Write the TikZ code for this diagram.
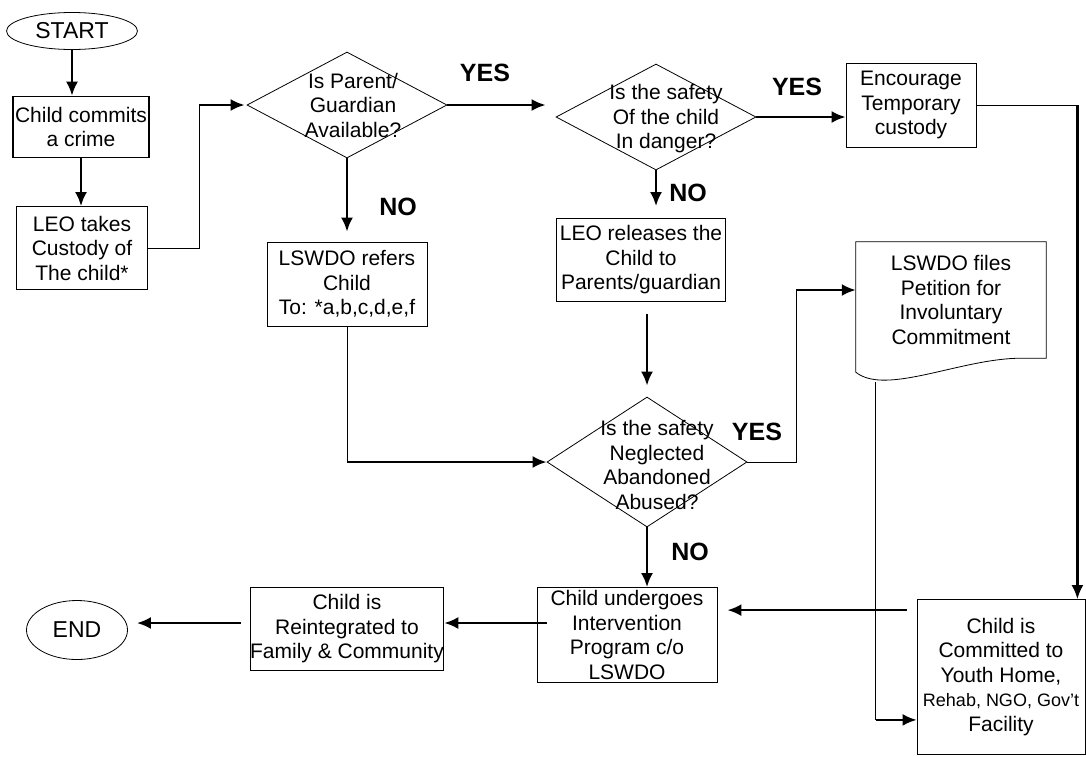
\documentclass[tikz,border=0pt]{standalone}
\usepackage{fontspec}
\setmainfont{Liberation Sans}
\usetikzlibrary{shapes.geometric}
\usetikzlibrary{arrows.meta}
\usetikzlibrary{calc}
\newcommand{\flowfont}{\fontsize{21}{24.5}\selectfont}
\newcommand{\answerfont}{\bfseries\fontsize{25}{25}\selectfont}
\tikzset{box/.style={draw,line width=#1,align=center,inner sep=0pt,font=\flowfont},box/.default=0.8pt}
\tikzset{terminal/.style={draw,ellipse,line width=0.8pt,inner sep=0pt,font=\fontsize{23}{23}\selectfont}}
\tikzset{decision/.style={draw,diamond,line width=0.8pt,inner sep=0pt}}
\tikzset{question/.style={align=center,inner sep=0pt,font=\flowfont}}
\tikzset{answer/.style={inner sep=0pt,font=\answerfont}}
\tikzset{flow/.style={-{Latex[length=14pt,width=12pt]},line width=2.4pt},line/.style={line width=0.8pt}}

\begin{document}
\begin{tikzpicture}[x=1pt,y=-1pt]

	\useasboundingbox (0,0) rectangle (1086,756);

	% Inicio e fim
	\node [terminal, minimum width=131, minimum height=37] (start) at (72,31) {START};
	\node [terminal, minimum width=101, minimum height=59] (end) at (77,630) {END};

	% Caixas do lado esquerdo
	\node [box=1.6pt, minimum width=136, minimum height=61] (crime) at (81,127) {Child commits\\a crime};
	\node [box, minimum width=131, minimum height=83] (custody) at (82,248) {LEO takes\\Custody of\\The child*};

	% As perguntas
	\node [decision, minimum width=200, minimum height=106] (parent) at (347,105) {};
	\node [question, xshift=6] at (parent) {Is Parent/\\Guardian\\Available?};
	\node [decision, minimum width=200, minimum height=106] (danger) at (656,117) {};
	\node [question, xshift=10, yshift=-2] at (danger) {Is the safety\\Of the child\\In danger?};
	\node [decision, minimum width=200, minimum height=130] (abused) at (647,462) {};
	\node [question, xshift=10, yshift=-3] at (abused) {Is the safety\\Neglected\\Abandoned\\Abused?};

	% Caixas do meio
	\node [box, minimum width=160, minimum height=84] (refer) at (347,284) {LSWDO refers\\Child\\To: *a,b,c,d,e,f};
	\node [box, minimum width=169, minimum height=83] (release) at (641,260) {LEO releases the\\Child to\\Parents/guardian};
	\node [box, minimum width=130, minimum height=84] (encourage) at (911,105) {Encourage\\Temporary\\custody};
	\node [box, minimum width=180, minimum height=95] (program) at (627,635) {Child undergoes\\Intervention\\Program c/o\\LSWDO};
	\node [box, minimum width=180, minimum height=83] (reintegrate) at (347,629) {Child is\\Reintegrated to\\Family \& Community};
	\node [box, minimum width=168, minimum height=155] (commit) at (1001,677)
		{Child is\\Committed to\\Youth Home,\\{\fontsize{18}{24.5}\selectfont Rehab, NGO, Gov't}\\Facility};

	% O documento da peticao
	\node [align=center, inner sep=0pt, font=\flowfont, minimum width=190, minimum height=116]
		(petition) at (951,300) {LSWDO files\\Petition for\\Involuntary\\Commitment};
	\draw [line] (petition.south east) -- (petition.north east) -- (petition.north west)
		-- ($(petition.south west)+(0,14)$)
		.. controls +(30,24) and +(-60,0) .. ($(petition.south east)+(-25,0)$) -- cycle;

	% Setas da coluna da esquerda
	\draw [flow] (start) -- (start |- crime.north);
	\draw [flow] (crime) -- (crime |- custody.north);
	\coordinate (k1) at ($(custody.east)+(51,0)$);
	\draw [line] (custody.east) -- (k1) -- (k1 |- parent.west);
	\draw [flow, shorten >=2pt] (k1 |- parent.west) -- (parent.west);

	% Primeira pergunta
	\draw [flow, shorten >=10pt] (parent.east) -- (parent.east -| danger.west);
	\node [answer] at (485,73) {YES};
	\draw [flow, shorten >=10pt] (parent.south) -- (refer.north);
	\node [answer] at (398,207) {NO};

	% Segunda pergunta
	\draw [flow] (danger.east) -- (danger.east -| encourage.west);
	\node [answer] at (797,87) {YES};
	\draw [flow, shorten >=12pt] (danger.south) -- (danger.south |- release.north);
	\node [answer] at (688,193) {NO};
	\draw [flow, shorten <=12pt, shorten >=11pt] (release.south -| abused.north) -- (abused.north);

	% Ligacao para a terceira pergunta
	\draw [line] (refer.south) -- (refer.south |- abused.west);
	\draw [flow] (refer.south |- abused.west) -- (abused.west);

	% Terceira pergunta
	\coordinate (k2) at ($(abused.east)+(49,0)$);
	\coordinate (k3) at ($(petition.west)+(0,-10)$);
	\draw [line] (abused.east) -- (k2) -- (k2 |- k3);
	\draw [flow] (k2 |- k3) -- (k3);
	\node [answer] at (757,432) {YES};
	\draw [flow] (abused.south) -- (abused.south |- program.north);
	\node [answer] at (690,552) {NO};

	% Temporary custody para o compromisso
	\coordinate (k4) at ($(commit.north east)+(-8,0)$);
	\draw [line] (encourage.east) -- (encourage.east -| k4);
	\draw [flow] (encourage.east -| k4) -- (k4);

	% Peticao para o compromisso
	\coordinate (k5) at ($(petition.south west)+(20,24)$);
	\coordinate (k6) at ($(commit.south west)+(0,-35)$);
	\draw [line] (k5) -- (k5 |- k6);
	\draw [flow] (k5 |- k6) -- (k6);

	% Linha de baixo
	\coordinate (k7) at ($(program.west)+(10,-12)$);
	\draw [flow, shorten <=10pt, shorten >=10pt] ($(commit.north west)+(0,11)$) -- ($(program.north east)+(0,23)$);
	\draw [flow] (k7) -- (k7 -| reintegrate.east);
	\draw [flow, shorten <=9pt, shorten >=9pt] (k7 -| reintegrate.west) -- (k7 -| end.east);

\end{tikzpicture}
\end{document}
